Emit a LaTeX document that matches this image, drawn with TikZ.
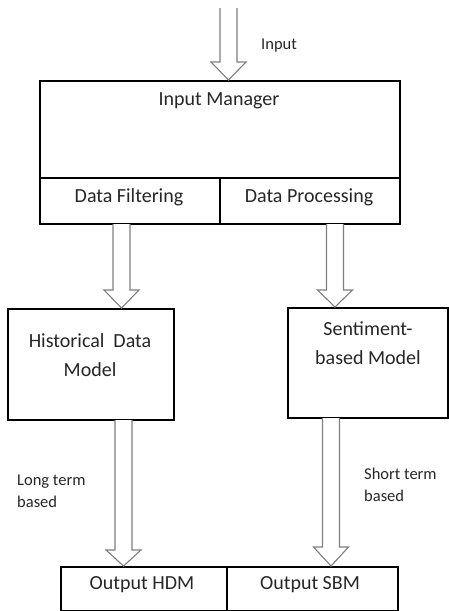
\documentclass[tikz,border=0pt]{standalone}
\usepackage{fontspec}
\setmainfont{Carlito}
\definecolor{arrowgray}{HTML}{7F7F7F}
\definecolor{txt}{HTML}{262626}
\newcommand{\blockarr}[4]{%
  \draw[arrowline] (#1-8.5,#2) -- (#1-8.5,#3) -- (#1-17.5,#3) -- (#1,#4) -- (#1+17.5,#3) -- (#1+8.5,#3) -- (#1+8.5,#2);}
\begin{document}
\begin{tikzpicture}[x=1pt,y=-1pt,
  box/.style={draw=black,line width=2pt,rectangle,inner sep=0pt,anchor=north west},
  boxtext/.style={text=txt,font=\fontsize{20}{29}\selectfont,align=center,inner sep=0pt},
  labeltext/.style={text=txt,font=\fontsize{16.5}{22}\selectfont,align=left,inner sep=0pt},
  arrowline/.style={draw=arrowgray,line width=1.1pt,fill=white,line join=miter}]
\useasboundingbox (0,0) rectangle (448,611);
% boxes
\node[box,minimum width=360pt,minimum height=97pt] (im) at (39,80) {};
\node[box,minimum width=180pt,minimum height=46pt] (df) at (39,177) {};
\node[box,minimum width=180pt,minimum height=46pt] (dp) at (219,177) {};
\node[box,minimum width=166pt,minimum height=111pt] (hdm) at (7,308) {};
\node[box,minimum width=160pt,minimum height=110pt] (sbm) at (287,307) {};
\node[box,minimum width=166pt,minimum height=44pt] (ohdm) at (60,566) {};
\node[box,minimum width=171pt,minimum height=44pt] (osbm) at (226,566) {};
% texts
\node[boxtext] (imt) at (219,101) {Input Manager};
\node[boxtext] (dft) at (129,197) {Data Filtering};
\node[boxtext] (dpt) at (309,197) {Data Processing};
\node[boxtext] (hdmt) at (90,355) {Historical~ Data\\Model};
\node[boxtext] (sbmt) at (368,343) {Sentiment-\\based Model};
\node[boxtext] (ohdmt) at (142,585) {Output HDM};
\node[boxtext] (osbmt) at (310,585) {Output SBM};
\node[labeltext,anchor=west] (inl) at (261,46) {Input};
\node[labeltext,anchor=west] (ltl) at (17,491) {Long term\\based};
\node[labeltext,anchor=west] (stl) at (364,485) {Short term\\based};
% block arrows
\blockarr{228.5}{8}{62}{80}
\blockarr{121.5}{224}{290}{308}
\blockarr{335}{224}{290}{307}
\blockarr{123.5}{420}{550}{566}
\blockarr{331}{418}{547}{566}
\end{tikzpicture}
\end{document}
